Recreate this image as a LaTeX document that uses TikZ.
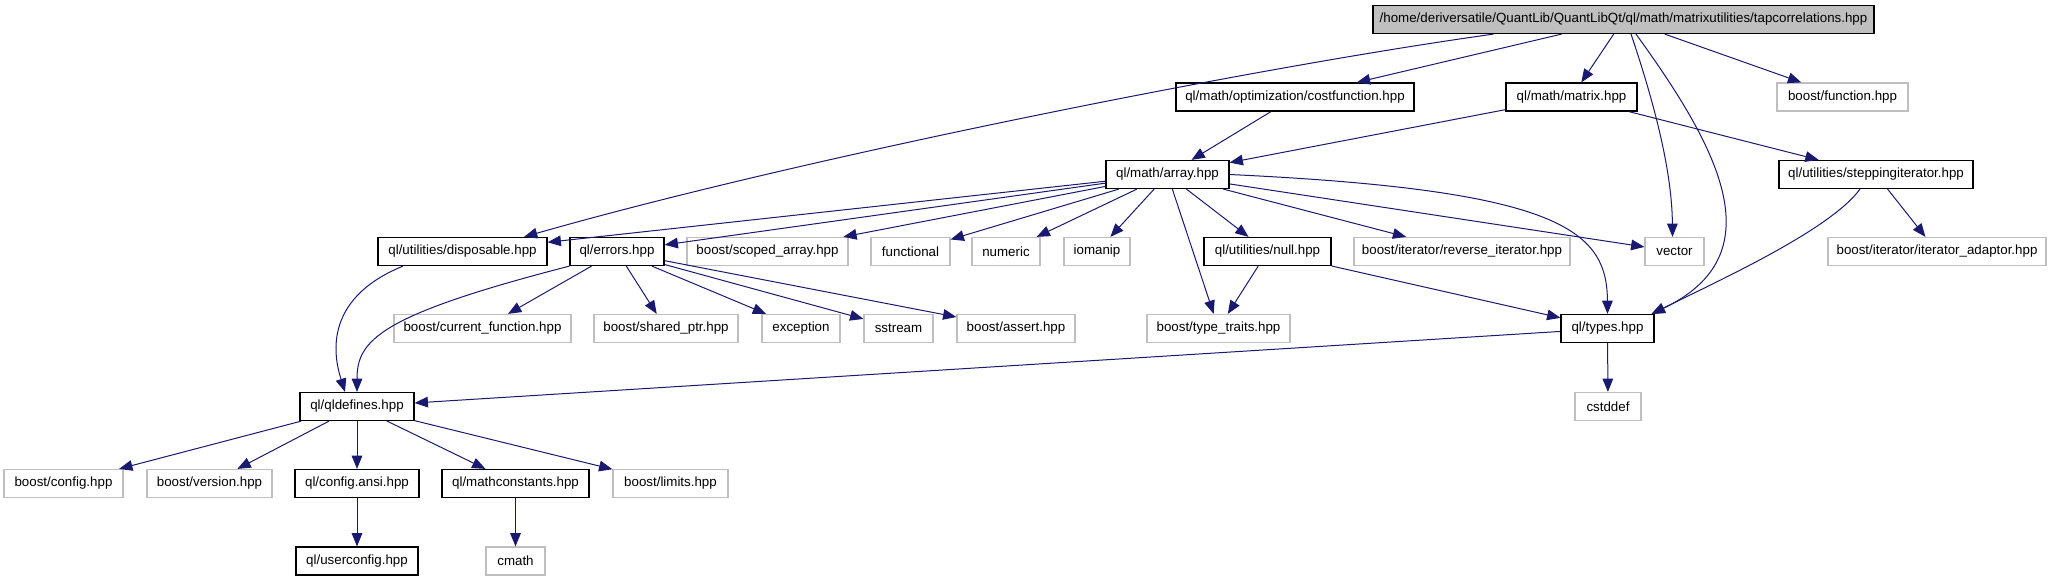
\documentclass[tikz,border=0pt]{standalone}
\usepackage{fontspec}
\setmainfont{Liberation Sans}
\usepackage{tikz}
\usetikzlibrary{arrows.meta,calc}
\definecolor{edgeblue}{HTML}{191970}
\definecolor{extgray}{HTML}{BFBFBF}

\begin{document}
\begin{tikzpicture}[
  x=0.75pt, y=-0.75pt,
  file/.style={draw, line width=0.9pt, fill=white, inner sep=0pt, minimum height=21pt, minimum width=#1*0.75pt, font=\fontsize{10}{12}\selectfont},
  ql/.style={file=#1, draw=black},
  ext/.style={file=#1, draw=extgray},
  main/.style={file=#1, draw=black, fill=extgray},
  arrow/.style={-{Triangle[length=10pt,width=8pt,fill=edgeblue]}, line width=0.75pt, draw=edgeblue},
]
  \useasboundingbox (0,0) rectangle (2051,581);

  % Files
  \node[main=501] (tapcorr) at (1623.5,19.5) {/home/deriversatile/QuantLib/QuantLibQt/ql/math/matrixutilities/tapcorrelations.hpp};
  \node[ql=238] (costfn) at (1295,97) {ql/math/optimization/costfunction.hpp};
  \node[ql=131] (matrix) at (1571.5,97) {ql/math/matrix.hpp};
  \node[ext=131] (bfunction) at (1842.5,97) {boost/function.hpp};
  \node[ql=123] (array) at (1167.5,174.5) {ql/math/array.hpp};
  \node[ql=194] (stepping) at (1876,174.5) {ql/utilities/steppingiterator.hpp};
  \node[ql=169] (disposable) at (462.5,251.5) {ql/utilities/disposable.hpp};
  \node[ql=94] (errors) at (617,251.5) {ql/errors.hpp};
  \node[ext=161] (scoped) at (767.5,251.5) {boost/scoped\_array.hpp};
  \node[ext=79] (functional) at (910.5,251.5) {functional};
  \node[ext=68] (numeric) at (1006,251.5) {numeric};
  \node[ext=66] (iomanip) at (1097,251.5) {iomanip};
  \node[ql=127] (null) at (1267.5,251.5) {ql/utilities/null.hpp};
  \node[ext=216] (reverse) at (1462,251.5) {boost/iterator/reverse\_iterator.hpp};
  \node[ext=59] (vector) at (1674.5,251.5) {vector};
  \node[ext=218] (adaptor) at (1937,251.5) {boost/iterator/iterator\_adaptor.hpp};
  \node[ext=177] (curfn) at (482.5,328.5) {boost/current\_function.hpp};
  \node[ext=144] (sharedptr) at (666,328.5) {boost/shared\_ptr.hpp};
  \node[ext=78] (exception) at (801,328.5) {exception};
  \node[ext=69] (sstream) at (898.5,328.5) {sstream};
  \node[ext=118] (assert) at (1016,328.5) {boost/assert.hpp};
  \node[ext=143] (typetraits) at (1218.5,328.5) {boost/type\_traits.hpp};
  \node[ql=93] (types) at (1607.5,328.5) {ql/types.hpp};
  \node[ql=114] (qldefines) at (357,406.5) {ql/qldefines.hpp};
  \node[ext=66] (cstddef) at (1608,406.5) {cstddef};
  \node[ext=119] (bconfig) at (63.5,483.5) {boost/config.hpp};
  \node[ext=125] (bversion) at (209.5,483.5) {boost/version.hpp};
  \node[ql=124] (configansi) at (357,483.5) {ql/config.ansi.hpp};
  \node[ql=147] (mathconst) at (515.5,483.5) {ql/mathconstants.hpp};
  \node[ext=115] (limits) at (670.5,483.5) {boost/limits.hpp};
  \node[ql=122] (userconfig) at (357,561) {ql/userconfig.hpp};
  \node[ext=59] (cmath) at (515.5,561) {cmath};

  % Includes
  \draw[arrow] ($(tapcorr.south)+(-130,0)$) .. controls (1250,68) and (800,158) .. ($(disposable.north)+(61.5,0)$);
  \draw[arrow] (tapcorr) -- (costfn);
  \draw[arrow] (tapcorr) -- (matrix);
  \draw[arrow] (tapcorr) -- (bfunction);
  \draw[arrow] ($(tapcorr.south)+(7.5,0)$) .. controls (1660,120) and (1672,180) .. ($(vector.north)+(-2,0)$);
  \draw[arrow] ($(tapcorr.south)+(12.5,0)$) .. controls (1720,150) and (1775,255) .. ($(types.north east)+(-3,0)$);
  \draw[arrow] (costfn) -- (array);
  \draw[arrow] (matrix) -- (array);
  \draw[arrow] (matrix) -- (stepping);
  \draw[arrow] (array) -- (disposable);
  \draw[arrow] (array) -- (errors);
  \draw[arrow] (array) -- (scoped);
  \draw[arrow] (array) -- (functional);
  \draw[arrow] (array) -- (numeric);
  \draw[arrow] (array) -- (iomanip);
  \draw[arrow] (array) -- (null);
  \draw[arrow] (array) -- (reverse);
  \draw[arrow] (array) -- (vector);
  \draw[arrow] (array) -- (typetraits);
  \draw[arrow] (array.east) .. controls (1560,190) and (1607,230) .. (types.north);
  \draw[arrow] ($(stepping.south)+(-16,0)$) .. controls (1830,230) and (1720,280) .. ($(types.north east)+(-3,0)$);
  \draw[arrow] (stepping) -- (adaptor);
  \draw[arrow] ($(disposable.south)+(-59.5,0)$) .. controls (320,300) and (335,360) .. ($(qldefines.north)+(-12,0)$);
  \draw[arrow] (errors.south west) .. controls (380,315) and (357,340) .. (qldefines.north);
  \draw[arrow] (errors) -- (curfn);
  \draw[arrow] (errors) -- (sharedptr);
  \draw[arrow] (errors) -- (exception);
  \draw[arrow] (errors) -- (sstream);
  \draw[arrow] (errors) -- (assert);
  \draw[arrow] (null) -- (typetraits);
  \draw[arrow] (null) -- (types);
  \draw[arrow] (types) -- (qldefines);
  \draw[arrow] (types) -- (cstddef);
  \draw[arrow] (qldefines) -- (bconfig);
  \draw[arrow] (qldefines) -- (bversion);
  \draw[arrow] (qldefines) -- (configansi);
  \draw[arrow] (qldefines) -- (mathconst);
  \draw[arrow] (qldefines) -- (limits);
  \draw[arrow] (configansi) -- (userconfig);
  \draw[arrow] (mathconst) -- (cmath);
\end{tikzpicture}
\end{document}
